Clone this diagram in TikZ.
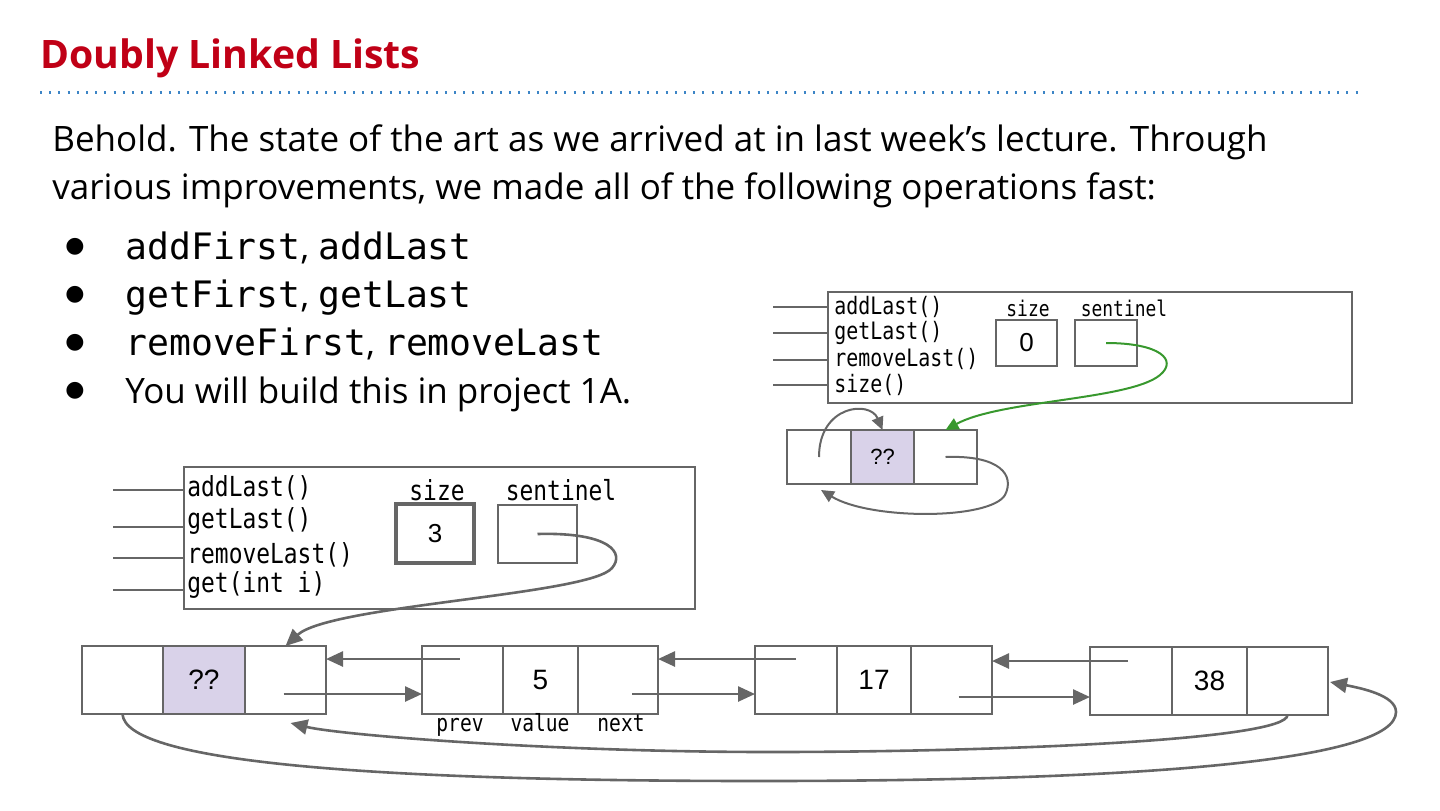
\documentclass[tikz,border=0pt]{standalone}
\usepackage{fontspec}
\setmainfont{Open Sans}
\newfontfamily\codefont[FakeStretch=0.83]{DejaVu Sans Mono}
\newfontfamily\bulletcode[Scale=1.04]{DejaVu Sans Mono}
\newfontfamily\numfont{Liberation Sans}
\newfontfamily\symfont{DejaVu Sans}
\usetikzlibrary{arrows.meta,positioning,calc}

\definecolor{linegray}{RGB}{102,102,102}
\definecolor{titlered}{RGB}{192,0,22}
\definecolor{dotblue}{RGB}{61,133,198}
\definecolor{cellfill}{RGB}{217,210,233}
\definecolor{ptrgreen}{RGB}{56,152,46}

\begin{document}
\begin{tikzpicture}[x=0.5pt, y=-0.5pt,
    body/.style={anchor=base west, inner sep=0pt, font=\fontsize{17.5}{17.5}\selectfont},
    box/.style={draw=linegray, line width=1pt, anchor=north west, inner sep=0pt},
    cell/.style={draw=linegray, line width=1.3pt, inner sep=0pt, outer sep=0pt,
        minimum height=34pt, font=\numfont\fontsize{14}{14}\selectfont},
    tcell/.style={cell, line width=1pt, minimum height=27pt, font=\numfont\fontsize{11}{11}\selectfont},
    slot/.style={draw=linegray, line width=1pt, inner sep=0pt, font=\numfont\fontsize{13}{13}\selectfont},
    bmethod/.style={anchor=west, inner sep=0pt, font=\codefont\fontsize{13.8}{13.8}\selectfont},
    tmethod/.style={anchor=west, inner sep=0pt, font=\codefont\fontsize{12}{12}\selectfont},
    wire/.style={draw=linegray, line width=1.2pt},
    ptr/.style={draw=linegray, line width=1.3pt, -{Triangle[length=8.5pt,width=7.5pt]}},
    tptr/.style={draw=linegray, line width=1pt, -{Triangle[length=6.5pt,width=6pt]}}]
  \useasboundingbox (0,0) rectangle (1440,810);

  % heading
  \node[anchor=base west, inner sep=0pt, text=titlered,
      font=\fontsize{19.6}{19.6}\selectfont\bfseries] (title) at (40,68) {Doubly Linked Lists};
  \draw[dotblue, line width=1.5pt, dash pattern=on 1pt off 3.6pt] (40,92) -- (1362,92);

  \node[body] (intro1) at (52,151) {Behold. The state of the art as we arrived at in last week’s lecture. Through};
  \node[body] (intro2) at (52,199) {various improvements, we made all of the following operations fast:};

  \foreach \y in {247,295,343,391}
    \node[inner sep=0pt, font=\symfont\fontsize{11}{11}\selectfont] (dot\y) at (75,\y) {●};
  \node[body] (item1) at (125,259) {{\bulletcode addFirst}, {\bulletcode addLast}};
  \node[body] (item2) at (125,307) {{\bulletcode getFirst}, {\bulletcode getLast}};
  \node[body] (item3) at (125,355) {{\bulletcode removeFirst}, {\bulletcode removeLast}};
  \node[body] (item4) at (125,403) {You will build this in project 1A.};

  % empty list (top right)
  \node[box, minimum width=262pt, minimum height=55.5pt] (tbox) at (827,291) {};
  \node[tmethod] (tm1) at (834,307) {addLast()};
  \node[tmethod] (tm2) at (834,333) {getLast()};
  \node[tmethod] (tm3) at (834,359) {removeLast()};
  \node[tmethod] (tm4) at (834,385) {size()};
  \foreach \i/\y in {1/307,2/333,3/360,4/385} {
    \coordinate (tl\i) at (773,\y);
    \draw[wire, line width=1pt] (tl\i) -- (tl\i -| tbox.west);
  }
  \node[inner sep=0pt, font=\codefont\fontsize{10.8}{10.8}\selectfont] (tsizel) at (1028,308) {size};
  \node[inner sep=0pt, font=\codefont\fontsize{10.8}{10.8}\selectfont] (tsentl) at (1124,308) {sentinel};
  \node[slot, line width=1.4pt, minimum width=30.5pt, minimum height=23pt] (tsize) at (1026.5,343) {0};
  \node[slot, minimum width=31pt, minimum height=23pt] (tsent) at (1106,343) {};

  \node[tcell, minimum width=32pt] (tp) at (819,457) {};
  \node[tcell, fill=cellfill, minimum width=31.5pt, right=0pt of tp] (tv) {??};
  \node[tcell, minimum width=31.5pt, right=0pt of tv] (tn) {};

  \draw[tptr, draw=ptrgreen] (tsent.center) .. controls (1160,343) and (1178,360) .. (1160,375)
      .. controls (1130,400) and (1000,400) .. (tn.north);
  \draw[tptr] (tp.center) .. controls (819,405) and (870,400) .. (tv.north);
  \draw[tptr] (tn.center) .. controls (1000,455) and (1015,475) .. (1005,495)
      .. controls (990,520) and (870,520) .. ($(tp.south)+(2,6)$);

  % list of three items (bottom)
  \node[box, minimum width=255.5pt, minimum height=71pt] (bbox) at (183,466) {};
  \node[bmethod] (bm1) at (187,488) {addLast()};
  \node[bmethod] (bm2) at (187,521) {getLast()};
  \node[bmethod] (bm3) at (187,555) {removeLast()};
  \node[bmethod] (bm4) at (187,585) {get(int i)};
  \foreach \i/\y in {1/490,2/527,3/558,4/590} {
    \coordinate (bl\i) at (113,\y);
    \draw[wire] (bl\i) -- (bl\i -| bbox.west);
  }
  \node[inner sep=0pt, font=\codefont\fontsize{13.8}{13.8}\selectfont] (bsizel) at (437,490) {size};
  \node[inner sep=0pt, font=\codefont\fontsize{13.8}{13.8}\selectfont] (bsentl) at (561,490) {sentinel};
  \node[slot, line width=2pt, minimum width=39pt, minimum height=29.5pt] (bsize) at (435,533.5) {3};
  \node[slot, line width=1.3pt, minimum width=39.5pt, minimum height=29pt] (bsent) at (537.5,534) {};

  \node[cell, minimum width=40.5pt] (s0p) at (122.5,680) {};
  \node[cell, fill=cellfill, minimum width=41pt, right=0pt of s0p] (s0v) {??};
  \node[cell, minimum width=40.5pt, right=0pt of s0v] (s0n) {};

  \node[cell, minimum width=40.5pt] (n1p) at (462.5,680) {};
  \node[cell, minimum width=37.5pt, right=0pt of n1p] (n1v) {5};
  \node[cell, minimum width=40pt, right=0pt of n1v] (n1n) {};

  \node[cell, minimum width=41pt] (n2p) at (796,680) {};
  \node[cell, minimum width=37pt, right=0pt of n2p] (n2v) {17};
  \node[cell, minimum width=40.5pt, right=0pt of n2v] (n2n) {};

  \node[cell, minimum width=41pt] (n3p) at (1131,681) {};
  \node[cell, minimum width=37.5pt, right=0pt of n3p] (n3v) {38};
  \node[cell, minimum width=40.5pt, right=0pt of n3v] (n3n) {};

  \node[anchor=base, inner sep=0pt, font=\codefont\fontsize{11.8}{11.8}\selectfont] (lprev) at (460,731) {prev};
  \node[anchor=base, inner sep=0pt, font=\codefont\fontsize{11.8}{11.8}\selectfont] (lvalue) at (540,731) {value};
  \node[anchor=base, inner sep=0pt, font=\codefont\fontsize{11.8}{11.8}\selectfont] (lnext) at (621,731) {next};

  \draw[ptr] (bsent.center) .. controls (610,532) and (625,553) .. (612,568)
      .. controls (590,595) and (330,605) .. (s0n.north);

  % next pointers
  \draw[ptr] ($(s0n.center)+(-2,14)$) -- ($(n1p.west)+(0,14)$);
  \draw[ptr] ($(n1n.center)+(14,14)$) -- ($(n2p.west)+(0,14)$);
  \draw[ptr] ($(n2n.center)+(7,17)$) -- ($(n3p.west)+(0,16)$);
  % prev pointers
  \draw[ptr] ($(n1p.center)+(-3,-21)$) -- ($(s0n.east)+(0,-21)$);
  \draw[ptr] ($(n2p.center)+(0,-21)$) -- ($(n1n.east)+(0,-21)$);
  \draw[ptr] ($(n3p.center)+(-3,-20)$) -- ($(n2n.east)+(0,-19)$);

  % wrap-around pointers
  \draw[ptr] (n3n.south) .. controls (1287,740) and (1000,752) .. (770,752)
      .. controls (550,752) and (340,735) .. ($(s0n.south)+(5,9)$);
  \draw[ptr] (s0p.south) .. controls (125,760) and (350,781) .. (760,781)
      .. controls (1150,781) and (1396,760) .. (1396,712)
      .. controls (1396,695) and (1360,688) .. ($(n3n.east)+(2,1)$);
\end{tikzpicture}
\end{document}
